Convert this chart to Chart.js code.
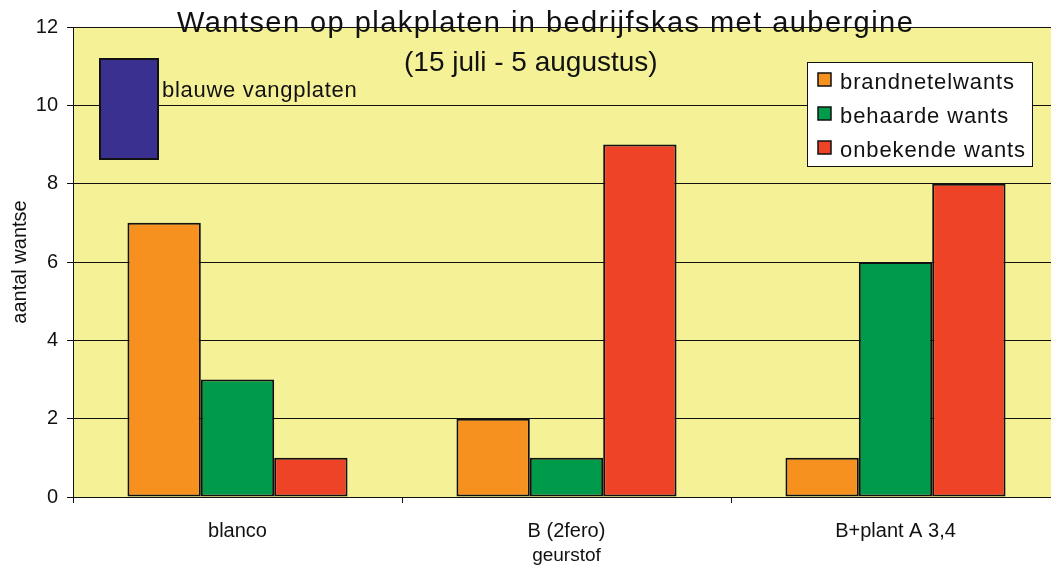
<!DOCTYPE html>
<html>
<head>
<meta charset="utf-8">
<script src="https://cdn.jsdelivr.net/npm/chart.js@4/dist/chart.umd.min.js"></script>
<style>
  html, body { margin: 0; padding: 0; background: #fff; overflow: hidden; width: 1051px; height: 568px; }
  #wrap { position: relative; width: 1064px; height: 568px; }
</style>
</head>
<body>
<div id="wrap"><canvas id="c"></canvas></div>
<script>
// ---- data ----
const categories = ['blanco', 'B (2fero)', 'B+plant A 3,4'];
const seriesNames = ['brandnetelwants', 'behaarde wants', 'onbekende wants'];
const brandnetelwants = [7, 2, 1];
const behaardeWants = [3, 1, 6];
const onbekendeWants = [1, 9, 8];
const yTicks = [0, 2, 4, 6, 8, 10, 12];
const titleLines = ['Wantsen op plakplaten in bedrijfskas met aubergine', '(15 juli - 5 augustus)'];
const yTitle = 'aantal wantse';
const xTitle = 'geurstof';
const noteLabel = 'blauwe vangplaten';

const colors = ['#F6901E', '#009B4A', '#EE4326'];
const noteColor = '#3A3090';
const plotBg = '#F5F197';
const FONT = '"Liberation Sans", Arial, Helvetica, sans-serif';

const bgPlugin = {
  id: 'plotbg',
  beforeDraw(chart) {
    const { ctx, chartArea: a } = chart;
    ctx.save();
    ctx.fillStyle = plotBg;
    ctx.fillRect(a.left, a.top, a.right - a.left, a.bottom - a.top);
    ctx.restore();
  }
};

const overlayPlugin = {
  id: 'overlay',
  afterDraw(chart) {
    const { ctx, chartArea: a } = chart;
    ctx.save();
    // title
    ctx.fillStyle = '#111';
    ctx.textBaseline = 'alphabetic';
    ctx.textAlign = 'left';
    ctx.font = '29px ' + FONT;
    ctx.letterSpacing = '1.45px';
    ctx.fillText(titleLines[0], 177, 32);
    ctx.font = '28px ' + FONT;
    ctx.letterSpacing = '0px';
    ctx.fillText(titleLines[1], 404, 71);

    // blue note box
    const nx = a.left + 27, ny = a.top + 32;
    ctx.fillStyle = noteColor;
    ctx.fillRect(nx, ny, 58, 100);
    ctx.strokeStyle = '#111';
    ctx.lineWidth = 2;
    ctx.strokeRect(nx, ny, 58, 100);
    ctx.fillStyle = '#111';
    ctx.font = '22px ' + FONT;
    ctx.letterSpacing = '0.7px';
    ctx.fillText(noteLabel, nx + 62, ny + 38);

    // legend
    const lx = 807.5, ly = 62.5, lw = 225, lh = 104;
    ctx.fillStyle = '#fff';
    ctx.fillRect(lx, ly, lw, lh);
    ctx.strokeStyle = '#111';
    ctx.lineWidth = 1;
    ctx.strokeRect(lx, ly, lw, lh);
    ctx.font = '22px ' + FONT;
    ctx.letterSpacing = '0.9px';
    chart.data.datasets.forEach((ds, i) => {
      const top = 73 + i * 34;
      ctx.fillStyle = ds.backgroundColor;
      ctx.fillRect(818, top, 13, 13);
      ctx.lineWidth = 1.5;
      ctx.strokeStyle = '#111';
      ctx.strokeRect(818, top, 13, 13);
      ctx.fillStyle = '#111';
      ctx.fillText(ds.label, 840, top + 16);
    });
    ctx.restore();
  }
};

const datasets = [brandnetelwants, behaardeWants, onbekendeWants].map((d, i) => ({
  label: seriesNames[i],
  data: d,
  backgroundColor: colors[i],
  borderColor: '#111',
  borderWidth: 2,
  borderSkipped: false,
  barPercentage: 1,
  categoryPercentage: 0.669
}));

new Chart(document.getElementById('c'), {
  type: 'bar',
  data: { labels: categories, datasets },
  options: {
    responsive: true,
    maintainAspectRatio: false,
    animation: false,
    devicePixelRatio: 1,
    layout: { padding: { left: 0, top: 27, right: 4, bottom: 0 } },
    plugins: { legend: { display: false }, title: { display: false }, tooltip: { enabled: false } },
    scales: {
      x: {
        offset: true,
        afterFit(s) { s.height = 71; },
        grid: { display: true, drawOnChartArea: false, offset: true, color: '#111', tickLength: 6, lineWidth: 1 },
        border: { display: true, color: '#111', width: 1 },
        ticks: { color: '#111', font: { family: FONT, size: 20 }, padding: 16, maxRotation: 0, autoSkip: false },
        title: { display: true, text: xTitle, color: '#111', font: { family: FONT, size: 19 }, padding: { top: 0, bottom: 1 } }
      },
      y: {
        min: 0, max: 12,
        afterFit(s) { s.width = 73; },
        afterBuildTicks(s) { s.ticks = yTicks.map(v => ({ value: v })); },
        grid: { color: '#111', lineWidth: 1, tickLength: 6 },
        border: { display: true, color: '#111', width: 1 },
        ticks: { color: '#111', font: { family: FONT, size: 20 }, padding: 9 },
        title: { display: true, text: yTitle, color: '#111', font: { family: FONT, size: 20 }, padding: { top: 8, bottom: 0 } }
      }
    }
  },
  plugins: [bgPlugin, overlayPlugin]
});
</script>
</body>
</html>
